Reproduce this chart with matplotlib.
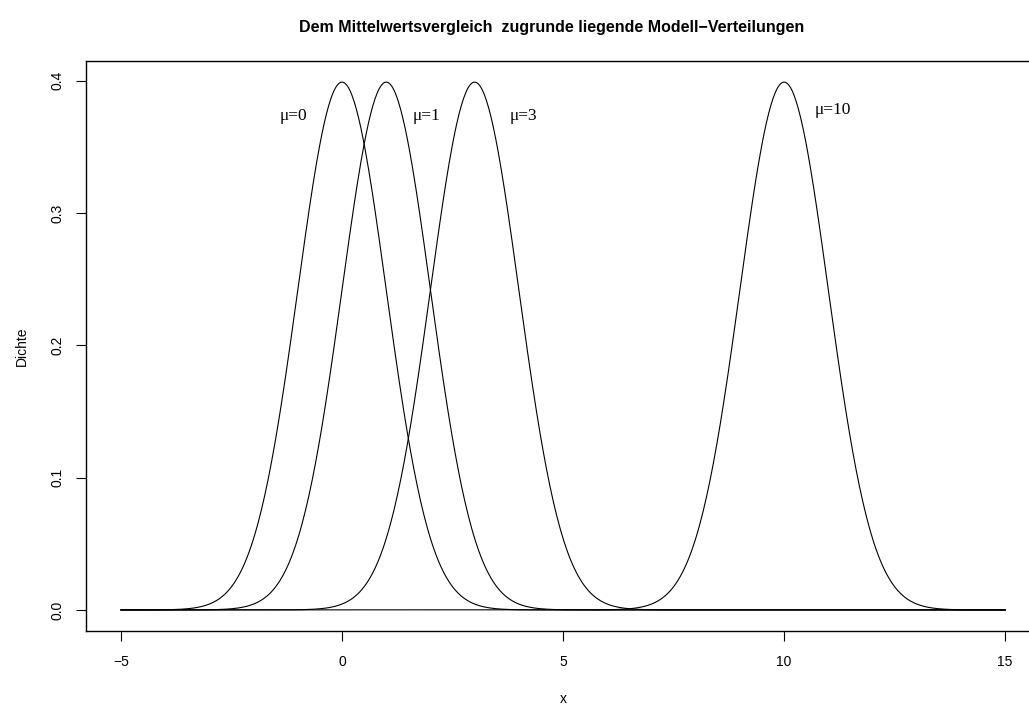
import numpy as np
import matplotlib.pyplot as plt

# Mittelwerte der Normalverteilungen (sd = 1)
mus = [0, 1, 3, 10]
sigma = 1.0
labels = ["\u03bc=0", "\u03bc=1", "\u03bc=3", "\u03bc=10"]
label_x = [-1.1, 1.9, 4.1, 11.1]
label_y = [0.373, 0.373, 0.373, 0.378]

x_from, x_to = -5, 15
x = np.linspace(x_from, x_to, 801)

plt.rcParams['font.family'] = ['Liberation Sans', 'DejaVu Sans']

fig = plt.figure(figsize=(10.29, 7.06), dpi=100)
ax = fig.add_axes([0.0832, 0.1062, 0.928, 0.8074])

for mu in mus:
    dens = np.exp(-0.5 * ((x - mu) / sigma) ** 2) / (sigma * np.sqrt(2 * np.pi))
    ax.plot(x, dens, color='black', lw=0.8)

for lx, ly, lab in zip(label_x, label_y, labels):
    ax.text(lx, ly, lab, family=['Liberation Serif', 'DejaVu Serif'],
            fontsize=12.5, ha='center', va='center')

# R-style axes: 4% padding, outward ticks, rotated y labels
ymax = 1 / (sigma * np.sqrt(2 * np.pi))
ax.set_xlim(x_from - 0.04 * (x_to - x_from), x_to + 0.04 * (x_to - x_from))
ax.set_ylim(-0.04 * ymax, ymax * 1.04)
ax.set_xticks([-5, 0, 5, 10, 15])
ax.set_xticklabels(['\u22125', '0', '5', '10', '15'])
ax.set_yticks([0.0, 0.1, 0.2, 0.3, 0.4])
ax.set_yticklabels(['0.0', '0.1', '0.2', '0.3', '0.4'], rotation=90, va='center')
ax.tick_params(direction='out', length=7, width=0.8, labelsize=10)
ax.tick_params(axis='x', pad=10)
ax.tick_params(axis='y', pad=8)
for sp in ax.spines.values():
    sp.set_linewidth(1.0)

ax.set_xlabel('x', fontsize=10, labelpad=17)
ax.set_ylabel('Dichte', fontsize=10, labelpad=16)
fig.text(0.5365, 0.961, 'Dem Mittelwertsvergleich  zugrunde liegende Modell\u2212Verteilungen',
         ha='center', va='center', fontsize=11.5, fontweight='bold')

fig.savefig('out.png', dpi=100)
